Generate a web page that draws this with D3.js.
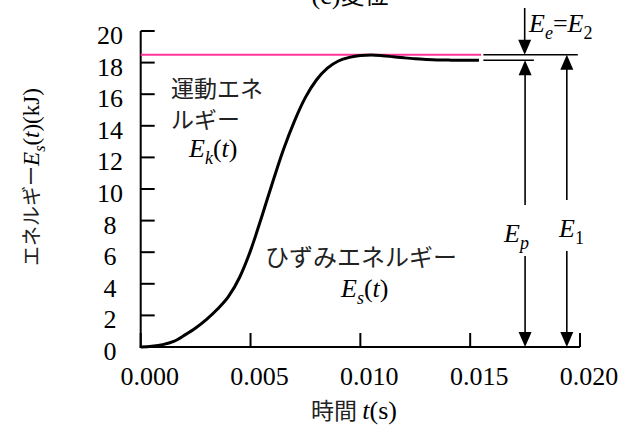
<!DOCTYPE html>
<html>
<head>
<meta charset="utf-8">
<script src="https://cdn.jsdelivr.net/npm/d3@7"></script>
<style>
  body { margin: 0; background: #fff; }
  svg { display: block; }
</style>
</head>
<body>
<svg id="chart" width="631" height="425"></svg>
<script>
// ---- data ----
const timeValues = [0, 0.0005, 0.001, 0.0015, 0.002, 0.0025, 0.003, 0.0035, 0.004, 0.0045,
  0.005, 0.0055, 0.006, 0.0065, 0.007, 0.0075, 0.008, 0.0085, 0.009, 0.0095,
  0.010, 0.0105, 0.011, 0.0115, 0.012, 0.0125, 0.013, 0.0135, 0.014, 0.0145, 0.0154];
const strainEnergy = [0, 0.05, 0.15, 0.35, 0.75, 1.2, 1.75, 2.4, 3.2, 4.4,
  6.1, 8.2, 10.4, 12.5, 14.3, 15.8, 16.9, 17.65, 18.1, 18.33,
  18.45, 18.48, 18.44, 18.37, 18.3, 18.24, 18.2, 18.17, 18.16, 18.15, 18.15];
const totalEnergyE1 = 18.5;      // pink line / E1
const plasticEnergyEp = 18.15;   // final strain energy / Ep
const totalLineEnd = 0.0155;
const xTicks = [0, 0.005, 0.010, 0.015, 0.020];
const xTickLabels = ["0.000", "0.005", "0.010", "0.015", "0.020"];
const yTicks = [0, 2, 4, 6, 8, 10, 12, 14, 16, 18, 20];
const annStart = 0.0156, annTopEnd = 0.0199, annLowEnd = 0.0179;
const arrowEpT = 0.0175, arrowE1T = 0.0194;

// ---- layout ----
const SERIF = "Liberation Serif";
const CJK = "Noto Sans CJK JP";
const svg = d3.select("#chart");
const x = d3.scaleLinear().domain([0, 0.02]).range([140.7, 580]);
const y = d3.scaleLinear().domain([0, 20]).range([347, 31]);
const FS = 26, SUB = 18;

// title (cut off at top)
const title = svg.append("text").attr("x", 350).attr("y", 4).attr("text-anchor", "middle")
  .attr("font-size", FS).attr("fill", "#000").attr("font-family", SERIF);
title.append("tspan").text("(c)");
title.append("tspan").attr("font-family", CJK).attr("font-size", 24).text("変位");

// axes
const axisG = svg.append("g").attr("stroke", "#000").attr("stroke-width", 2).attr("fill", "none");
axisG.append("line").attr("x1", x(0)).attr("x2", x(0)).attr("y1", y(20)).attr("y2", y(0) + 1);
axisG.append("line").attr("x1", x(0) - 1).attr("x2", x(0.02)).attr("y1", y(0)).attr("y2", y(0));
axisG.selectAll(".yt").data(yTicks).join("line")
  .attr("x1", x(0)).attr("x2", x(0) + 14).attr("y1", d => y(d)).attr("y2", d => y(d));
axisG.selectAll(".xt").data(xTicks).join("line")
  .attr("x1", d => x(d)).attr("x2", d => x(d)).attr("y1", y(0)).attr("y2", y(0) - 14);

svg.selectAll(".ytl").data(yTicks).join("text").attr("font-family", SERIF)
  .attr("x", 110).attr("y", d => y(d) + 13).attr("text-anchor", "middle")
  .attr("font-size", FS).attr("fill", "#000").text(d => d);
svg.selectAll(".xtl").data(xTicks).join("text").attr("font-family", SERIF)
  .attr("x", d => x(d) + 9).attr("y", y(0) + 38).attr("text-anchor", "middle")
  .attr("font-size", FS).attr("fill", "#000").text((d, i) => xTickLabels[i]);

// axis titles
const xl = svg.append("text").attr("x", 354).attr("y", 419).attr("text-anchor", "middle")
  .attr("font-size", FS).attr("font-family", SERIF).attr("fill", "#000");
xl.append("tspan").attr("font-family", CJK).attr("font-size", 23).attr("fill", "#222").text("時間 ");
xl.append("tspan").attr("font-style", "italic").text("t");
xl.append("tspan").text("(s)");

const yl = svg.append("text").attr("transform", "translate(39,177) rotate(-90)")
  .attr("text-anchor", "middle").attr("font-size", 23).attr("font-family", SERIF).attr("fill", "#000");
yl.append("tspan").attr("font-family", CJK).attr("font-size", 20).attr("fill", "#222").text("エネルギー");
yl.append("tspan").attr("font-style", "italic").text("E");
yl.append("tspan").attr("font-style", "italic").attr("font-size", 16).attr("dy", 6).text("s");
yl.append("tspan").attr("dy", -6).text("(");
yl.append("tspan").attr("font-style", "italic").text("t");
yl.append("tspan").text(")(kJ)");

// pink total energy line
svg.append("line").attr("x1", x(0)).attr("x2", x(totalLineEnd))
  .attr("y1", y(totalEnergyE1)).attr("y2", y(totalEnergyE1))
  .attr("stroke", "#ff3399").attr("stroke-width", 2);

// strain energy curve
const line = d3.line().x((d, i) => x(timeValues[i])).y(d => y(d)).curve(d3.curveMonotoneX);
svg.append("path").datum(strainEnergy).attr("d", line)
  .attr("fill", "none").attr("stroke", "#000").attr("stroke-width", 3).attr("stroke-linejoin", "round");

// annotation lines
const ann = svg.append("g").attr("stroke", "#000").attr("stroke-width", 1.6);
ann.append("line").attr("x1", x(annStart)).attr("x2", x(annTopEnd)).attr("y1", y(totalEnergyE1)).attr("y2", y(totalEnergyE1));
ann.append("line").attr("x1", x(annStart)).attr("x2", x(annLowEnd)).attr("y1", y(plasticEnergyEp)).attr("y2", y(plasticEnergyEp));

function arrowHead(px, py, dir) { // dir: +1 pointing down, -1 pointing up
  const w = 6.5, L = 15;
  svg.append("path").attr("d", `M${px},${py} L${px - w},${py - dir * L} L${px + w},${py - dir * L} Z`).attr("fill", "#000");
}
function vseg(px, y1, y2) {
  ann.append("line").attr("x1", px).attr("x2", px).attr("y1", y1).attr("y2", y2);
}
// Ee arrow (from above, pointing down)
const xEe = x(arrowEpT) - 0.4;
vseg(xEe, 8, y(totalEnergyE1) - 8);
arrowHead(xEe, y(totalEnergyE1), 1);
// Ep arrow
const xEp = x(arrowEpT);
vseg(xEp, y(plasticEnergyEp) + 8, 205);
vseg(xEp, 256, y(0) - 8);
arrowHead(xEp, y(plasticEnergyEp), -1);
arrowHead(xEp, y(0), 1);
// E1 arrow
const xE1 = x(arrowE1T);
vseg(xE1, y(totalEnergyE1) + 8, 200);
vseg(xE1, 251, y(0) - 8);
arrowHead(xE1, y(totalEnergyE1), -1);
arrowHead(xE1, y(0), 1);

function symLabel(px, py, main, sub, subItalic, rest) {
  const t = svg.append("text").attr("font-family", SERIF).attr("x", px).attr("y", py)
    .attr("font-size", FS).attr("fill", "#000");
  t.append("tspan").attr("font-style", "italic").text(main);
  t.append("tspan").attr("font-style", subItalic ? "italic" : "normal")
    .attr("font-size", SUB).attr("dy", 7).text(sub);
  if (rest) rest(t);
  return t;
}
symLabel(504, 242, "E", "p", true);
symLabel(559, 237, "E", "1", false);
symLabel(529, 32, "E", "e", true, t => {
  t.append("tspan").attr("dy", -7).text("=");
  t.append("tspan").attr("font-style", "italic").text("E");
  t.append("tspan").attr("font-size", SUB).attr("dy", 7).text("2");
});

// in-plot labels
svg.append("text").attr("font-family", CJK).attr("x", 171).attr("y", 97).attr("font-size", 23).attr("fill", "#222").text("運動エネ");
svg.append("text").attr("font-family", CJK).attr("x", 171).attr("y", 128).attr("font-size", 23).attr("fill", "#222").text("ルギー");
const ek = svg.append("text").attr("font-family", SERIF).attr("x", 189).attr("y", 157).attr("font-size", FS).attr("fill", "#000");
ek.append("tspan").attr("font-style", "italic").text("E");
ek.append("tspan").attr("font-style", "italic").attr("font-size", SUB).attr("dy", 7).text("k");
ek.append("tspan").attr("dy", -7).text("(");
ek.append("tspan").attr("font-style", "italic").text("t");
ek.append("tspan").text(")");

svg.append("text").attr("font-family", CJK).attr("x", 265).attr("y", 266).attr("font-size", 24).attr("fill", "#222").text("ひずみエネルギー");
const es = svg.append("text").attr("font-family", SERIF).attr("x", 341).attr("y", 297).attr("font-size", FS).attr("fill", "#000");
es.append("tspan").attr("font-style", "italic").text("E");
es.append("tspan").attr("font-style", "italic").attr("font-size", SUB).attr("dy", 7).text("s");
es.append("tspan").attr("dy", -7).text("(");
es.append("tspan").attr("font-style", "italic").text("t");
es.append("tspan").text(")");
</script>
</body>
</html>
